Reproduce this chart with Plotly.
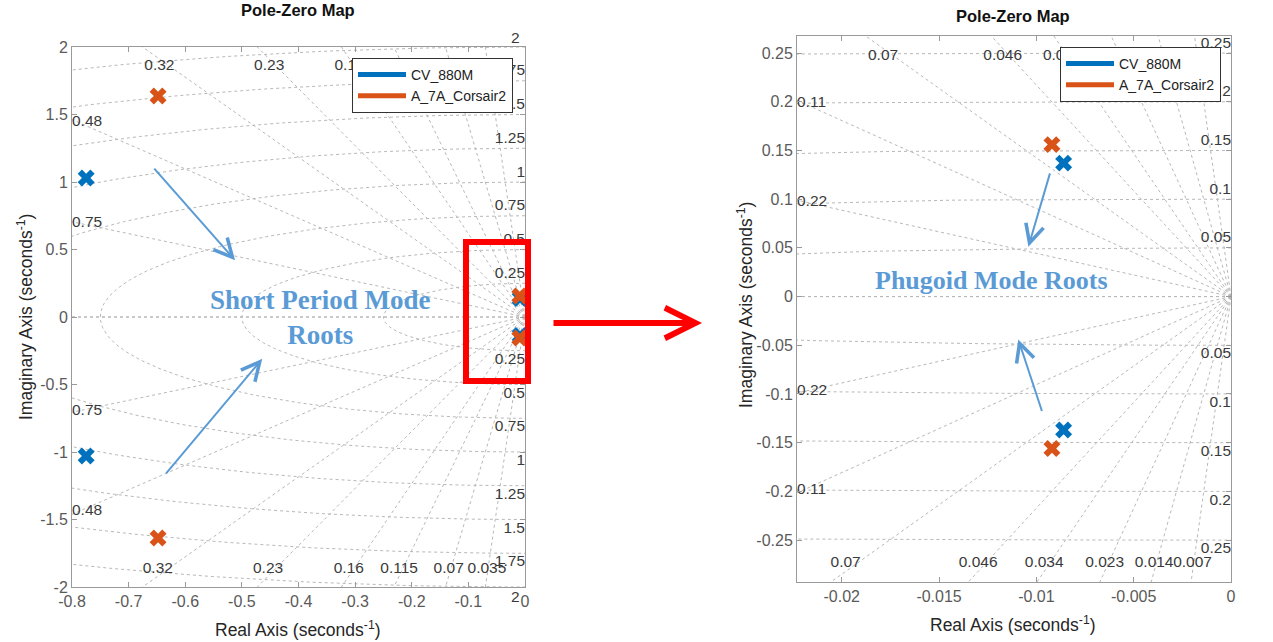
import numpy as np
import plotly.graph_objects as go

W, H = 1273, 642

# ---------------- data ----------------
series_names = ["CV_880M", "A_7A_Corsair2"]
series_colors = ["#0072BD", "#D95319"]
cv_real = [-0.775, -0.775, -0.0086, -0.0086]
cv_imag = [1.03, -1.03, 0.137, -0.137]
a7_real = [-0.648, -0.648, -0.0092, -0.0092]
a7_imag = [1.637, -1.637, 0.156, -0.156]

left_zeta = [0.035, 0.07, 0.115, 0.16, 0.23, 0.32, 0.48, 0.75]
left_wn = [0.25, 0.5, 0.75, 1.0, 1.25, 1.5, 1.75, 2.0]
right_zeta = [0.007, 0.014, 0.023, 0.034, 0.046, 0.07, 0.11, 0.22]
right_wn = [0.05, 0.1, 0.15, 0.2, 0.25]

left_xticks = [-0.8, -0.7, -0.6, -0.5, -0.4, -0.3, -0.2, -0.1, 0]
left_yticks = [-2, -1.5, -1, -0.5, 0, 0.5, 1, 1.5, 2]
right_xticks = [-0.02, -0.015, -0.01, -0.005, 0]
right_yticks = [-0.25, -0.2, -0.15, -0.1, -0.05, 0, 0.05, 0.1, 0.15, 0.2, 0.25]

left_xrange = [-0.8, 0]
left_yrange = [-2, 2]
right_xrange = [-0.0223, 0]
right_yrange = [-0.293, 0.2675]

# annotation arrows: (tail_x, tail_y, head_x, head_y)
left_arrows = [(-0.657, 1.11, -0.512, 0.42), (-0.636, -1.17, -0.464, -0.31)]
right_arrows = [(-0.00928, 0.128, -0.01041, 0.0512), (-0.00969, -0.119, -0.01093, -0.044)]

GRID = "#b8b8b8"
FRAME = "#9a9a9a"
LBL = "#3a3a3a"
FONT = "Liberation Sans"
NOTE = "#5B9BD5"
LBL_SIZE = 15.5


def px_x(p):
    return p / W


def px_y(p):
    return 1 - p / H


left_xdom = [px_x(72), px_x(525)]
left_ydom = [px_y(587), px_y(47)]
right_xdom = [px_x(797), px_x(1231)]
right_ydom = [px_y(582), px_y(36)]

extra_annotations = []


def grid_traces(zetas, wns, xr, yr, xdom, ydom, xa, ya, R, dy):
    traces = []
    xs, ys = [], []
    for z in list(zetas) + [1.0]:
        s = np.sqrt(1 - z * z)
        for sign in (1, -1):
            xs += [0, -R * z, None]
            ys += [0, sign * R * s, None]
    t = np.linspace(0, np.pi, 241)
    for w in wns:
        xs += list(-w * np.sin(t)) + [None]
        ys += list(w * np.cos(t)) + [None]
    traces.append(go.Scatter(x=xs, y=ys, mode="lines", xaxis=xa, yaxis=ya,
                             line=dict(color=GRID, width=1, dash="dot"),
                             hoverinfo="skip", showlegend=False))
    fx, fy, ft = [], [], []
    for w in wns:
        for sign in (1, -1):
            yv = sign * (w + dy)
            if yr[0] <= yv <= yr[1]:
                fx.append(0)
                fy.append(yv)
                ft.append(f"{w:g}")
            else:
                # outside the axes box: place in paper coordinates so it stays visible
                py = ydom[0] + (yv - yr[0]) / (yr[1] - yr[0]) * (ydom[1] - ydom[0])
                extra_annotations.append(dict(
                    text=f"{w:g}", x=xdom[1], y=py, xref="paper", yref="paper", showarrow=False,
                    xanchor="right", yanchor="middle", xshift=-3,
                    font=dict(family=FONT, size=LBL_SIZE, color=LBL)))
    traces.append(go.Scatter(x=fx, y=fy, text=ft, mode="text", textposition="middle left",
                             xaxis=xa, yaxis=ya, cliponaxis=False, showlegend=False,
                             hoverinfo="skip",
                             textfont=dict(family=FONT, size=LBL_SIZE, color=LBL)))
    span = yr[1] - yr[0]
    ytop = yr[1] - 0.036 * span
    ybot = yr[0] + 0.034 * span
    cx, cy, ct, lx, ly, lt = [], [], [], [], [], []
    for z in zetas:
        slope = np.sqrt(1 - z * z) / z
        for level, sign in ((ytop, 1), (ybot, -1)):
            x = -abs(level) / slope
            if x >= xr[0]:
                cx.append(x * 1.03)
                cy.append(level)
                ct.append(f"{z:g}")
            else:
                lx.append(xr[0])
                ly.append(sign * abs(xr[0]) * slope * 0.985)
                lt.append(f"{z:g}")
    traces.append(go.Scatter(x=cx, y=cy, text=ct, mode="text", textposition="middle center",
                             xaxis=xa, yaxis=ya, cliponaxis=False, showlegend=False,
                             hoverinfo="skip",
                             textfont=dict(family=FONT, size=LBL_SIZE, color=LBL)))
    traces.append(go.Scatter(x=lx, y=ly, text=lt, mode="text", textposition="middle right",
                             xaxis=xa, yaxis=ya, cliponaxis=False, showlegend=False,
                             hoverinfo="skip",
                             textfont=dict(family=FONT, size=LBL_SIZE, color=LBL)))
    return traces


fig = go.Figure()
for tr in grid_traces(left_zeta, left_wn, left_xrange, left_yrange, left_xdom, left_ydom,
                      "x", "y", 4.0, 0.068):
    fig.add_trace(tr)
for tr in grid_traces(right_zeta, right_wn, right_xrange, right_yrange, right_xdom, right_ydom,
                      "x2", "y2", 0.6, 0.0095):
    fig.add_trace(tr)

pole_sets = [(cv_real, cv_imag), (a7_real, a7_imag)]
for (xa, ya, leg) in (("x", "y", "legend"), ("x2", "y2", "legend2")):
    for name, col, (pr, pi) in zip(series_names, series_colors, pole_sets):
        fig.add_trace(go.Scatter(x=pr, y=pi, mode="markers", xaxis=xa, yaxis=ya,
                                 marker=dict(symbol="x", size=15, color=col, line=dict(width=0)),
                                 name=name, showlegend=False))
    for name, col in zip(series_names, series_colors):
        fig.add_trace(go.Scatter(x=[None], y=[None], mode="lines", xaxis=xa, yaxis=ya,
                                 line=dict(color=col, width=5), name=name, legend=leg))


def axis(rng, ticks, dom):
    return dict(range=rng, domain=dom, tickvals=ticks, ticktext=[f"{v + 0:g}" for v in ticks],
                showgrid=False, zeroline=False, showline=True, linecolor=FRAME, linewidth=1,
                mirror="ticks", ticks="inside", ticklen=5, tickcolor=FRAME,
                tickfont=dict(family=FONT, size=16, color="#5a5a5a"), automargin=False)


legend_style = dict(xanchor="right", yanchor="top", bgcolor="white", bordercolor="#333333",
                    borderwidth=1, font=dict(family=FONT, size=14, color="#222222"),
                    tracegroupgap=0, itemwidth=48)

fig.update_layout(
    width=W, height=H, template="none", autosize=False,
    margin=dict(l=0, r=0, t=0, b=0),
    paper_bgcolor="white", plot_bgcolor="white",
    xaxis=dict(axis(left_xrange, left_xticks, left_xdom), anchor="y"),
    yaxis=dict(axis(left_yrange, left_yticks, left_ydom), anchor="x"),
    xaxis2=dict(axis(right_xrange, right_xticks, right_xdom), anchor="y2"),
    yaxis2=dict(axis(right_yrange, right_yticks, right_ydom), anchor="x2"),
    legend=dict(legend_style, x=px_x(513), y=px_y(58)),
    legend2=dict(legend_style, x=px_x(1221), y=px_y(47)),
    showlegend=True,
)

ann = list(extra_annotations)
for cx, cy in ((298, 10), (1013, 16)):
    ann.append(dict(text="<b>Pole-Zero Map</b>", x=px_x(cx), y=px_y(cy), xref="paper", yref="paper",
                    showarrow=False, xanchor="center", yanchor="middle",
                    font=dict(family=FONT, size=16.5, color="#111111")))
for cx, cy in ((298, 629), (1013, 624)):
    ann.append(dict(text="Real Axis (seconds<sup>-1</sup>)", x=px_x(cx), y=px_y(cy), xref="paper",
                    yref="paper", showarrow=False, xanchor="center", yanchor="middle",
                    font=dict(family=FONT, size=17.5, color="#262626")))
for cx, cy in ((25, 317), (745, 305)):
    ann.append(dict(text="Imaginary Axis (seconds<sup>-1</sup>)", x=px_x(cx), y=px_y(cy), xref="paper",
                    yref="paper", showarrow=False, xanchor="center", yanchor="middle", textangle=-90,
                    font=dict(family=FONT, size=17.5, color="#262626")))
ann.append(dict(text="<b>Short Period Mode<br>Roots</b>", x=-0.362, y=0.0, xref="x", yref="y",
                showarrow=False, xanchor="center", yanchor="middle",
                font=dict(family="Liberation Serif", size=27, color=NOTE)))
ann.append(dict(text="<b>Phugoid Mode Roots</b>", x=-0.0123, y=0.0164, xref="x2", yref="y2",
                showarrow=False, xanchor="center", yanchor="middle",
                font=dict(family="Liberation Serif", size=26, color=NOTE)))
for (xa, ya, arrows) in (("x", "y", left_arrows), ("x2", "y2", right_arrows)):
    for tx, ty, hx, hy in arrows:
        ann.append(dict(x=hx, y=hy, ax=tx, ay=ty, xref=xa, yref=ya, axref=xa, ayref=ya,
                        text="", showarrow=True, arrowhead=5, arrowsize=1.8, arrowwidth=2,
                        arrowcolor=NOTE))
ann.append(dict(x=px_x(702), y=px_y(323), xref="paper", yref="paper", ax=-150, ay=0,
                axref="pixel", ayref="pixel", text="", showarrow=True, arrowhead=5,
                arrowsize=1.0, arrowwidth=6, arrowcolor="#FF0000"))
fig.update_layout(annotations=ann)

fig.add_shape(type="rect", xref="paper", yref="paper",
              x0=px_x(466), x1=px_x(528), y0=px_y(381), y1=px_y(242),
              line=dict(color="#FF0000", width=6), layer="above")

fig.write_html("out.html")
